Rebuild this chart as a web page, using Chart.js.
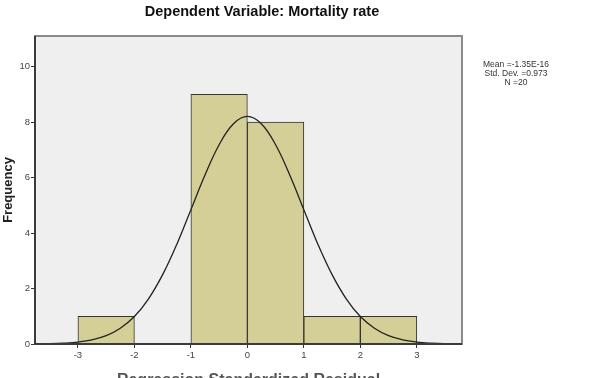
<!DOCTYPE html>
<html>
<head>
<meta charset="utf-8">
<script src="https://cdn.jsdelivr.net/npm/chart.js@4"></script>
<style>
  html, body { margin: 0; padding: 0; background: #fff; }
  #wrap { position: relative; width: 592px; height: 378px; }
</style>
</head>
<body>
<div id="wrap"><canvas id="hist"></canvas></div>
<script>
// Histogram bins (centres) and frequencies
const binCenters = [-2.5, -0.5, 0.5, 1.5, 2.5]
const frequencies = [1, 9, 8, 1, 1]

// Normal curve
const curveX = [-3.75, -3.5, -3.25, -3, -2.75, -2.5, -2.25, -2, -1.75, -1.5, -1.25, -1, -0.75, -0.5, -0.25,
  0, 0.25, 0.5, 0.75, 1, 1.25, 1.5, 1.75, 2, 2.25, 2.5, 2.75, 3, 3.25, 3.5, 3.75]
const curveY = [0.005, 0.01, 0.03, 0.07, 0.15, 0.3, 0.57, 0.99, 1.63, 2.5, 3.59, 4.84, 6.09, 7.18, 7.93,
  8.2, 7.93, 7.18, 6.09, 4.84, 3.59, 2.5, 1.63, 0.99, 0.57, 0.3, 0.15, 0.07, 0.03, 0.01, 0.005]

const xTicks = [-3, -2, -1, 0, 1, 2, 3]
const yTicks = [0, 2, 4, 6, 8, 10]
const chartTitle = 'Dependent Variable: Mortality rate'
const statsLines = ['Mean =-1.35E-16', 'Std. Dev. =0.973', 'N =20']

const plotFrame = {
  id: 'plotFrame',
  beforeDraw(chart) {
    const { ctx, chartArea: a } = chart
    ctx.save()
    ctx.fillStyle = '#efefef'
    ctx.fillRect(a.left, a.top, a.right - a.left, a.bottom - a.top)
    ctx.restore()
  },
  afterDraw(chart) {
    const { ctx, chartArea: a } = chart
    ctx.save()
    ctx.strokeStyle = '#8a8a8a'
    ctx.lineWidth = 2
    ctx.strokeRect(a.left, a.top, a.right - a.left, a.bottom - a.top)
    ctx.strokeStyle = '#222'
    ctx.lineWidth = 1.5
    ctx.beginPath()
    ctx.moveTo(a.left, a.top)
    ctx.lineTo(a.left, a.bottom)
    ctx.lineTo(a.right, a.bottom)
    ctx.stroke()
    // title (SPSS puts it a bit right of the plot centre)
    ctx.fillStyle = '#111'
    ctx.textAlign = 'center'
    ctx.textBaseline = 'middle'
    ctx.font = 'bold 14.5px "Liberation Sans", Arial, sans-serif'
    ctx.fillText(chartTitle, 262, 12)
    // stats box text
    ctx.fillStyle = '#333'
    ctx.font = '8.5px "Liberation Sans", Arial, sans-serif'
    statsLines.forEach((t, i) => ctx.fillText(t, 516, 65 + i * 9))
    ctx.restore()
  }
}

const ctx = document.getElementById('hist').getContext('2d')
new Chart(ctx, {
  data: {
    datasets: [
      {
        type: 'line',
        data: curveX.map((x, i) => ({ x: x, y: curveY[i] })),
        borderColor: '#222',
        borderWidth: 1.3,
        pointRadius: 0,
        tension: 0.4,
        fill: false,
        order: 0
      },
      {
        type: 'bar',
        data: binCenters.map((x, i) => ({ x: x, y: frequencies[i] })),
        backgroundColor: '#d4cf96',
        borderColor: '#333',
        borderWidth: 1,
        barPercentage: 1,
        categoryPercentage: 1,
        order: 1
      }
    ]
  },
  options: {
    responsive: true,
    maintainAspectRatio: false,
    animation: false,
    layout: { padding: { top: 36, right: 130, bottom: 0, left: 0 } },
    plugins: {
      legend: { display: false },
      tooltip: { enabled: false },
      title: { display: false }
    },
    scales: {
      x: {
        type: 'linear',
        offset: false,
        min: -3.76,
        max: 3.8,
        grid: { display: true, offset: false, drawOnChartArea: false, drawTicks: true, tickLength: 4, color: '#333' },
        border: { display: false },
        afterBuildTicks(scale) { scale.ticks = xTicks.map(v => ({ value: v })) },
        afterFit(scale) { scale.height = 34 },
        ticks: {
          color: '#444',
          font: { family: '"Liberation Sans", Arial, sans-serif', size: 9.5 },
          padding: 2
        },
        title: {
          display: true,
          text: 'Regression Standardized Residual',
          color: '#555',
          font: { family: '"Liberation Sans", Arial, sans-serif', size: 16, weight: 'bold' },
          padding: { top: 0, bottom: -12 }
        }
      },
      y: {
        min: 0,
        max: 11.1,
        grid: { display: true, offset: false, drawOnChartArea: false, drawTicks: true, tickLength: 4, color: '#333' },
        border: { display: false },
        afterBuildTicks(scale) { scale.ticks = yTicks.map(v => ({ value: v })) },
        afterFit(scale) { scale.width = 35 },
        ticks: {
          color: '#444',
          font: { family: '"Liberation Sans", Arial, sans-serif', size: 9.5 },
          padding: 1
        },
        title: {
          display: true,
          text: 'Frequency',
          color: '#222',
          font: { family: '"Liberation Sans", Arial, sans-serif', size: 13, weight: 'bold' },
          padding: { top: 1, bottom: 0 }
        }
      }
    }
  },
  plugins: [plotFrame]
})
</script>
</body>
</html>
